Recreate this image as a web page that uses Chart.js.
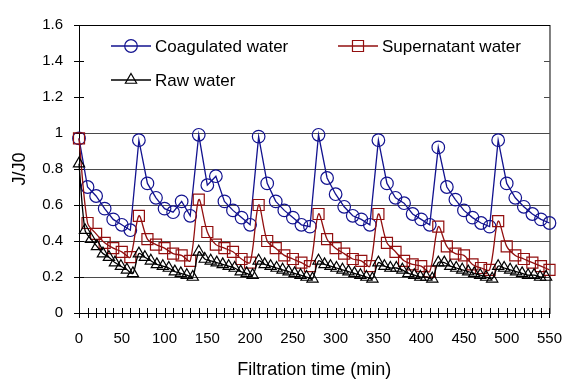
<!DOCTYPE html>
<html>
<head>
<meta charset="utf-8">
<script src="https://cdn.jsdelivr.net/npm/chart.js@4.4.1/dist/chart.umd.min.js"></script>
<style>
  html, body { margin: 0; padding: 0; background: #fff; }
  canvas { display: block; }
</style>
</head>
<body>
<canvas id="chart" width="579" height="382"></canvas>
<script>
// --- data ---
const sampleTime = [0, 10, 20, 30, 40, 50, 60, 70, 80, 90, 100, 110, 120, 130, 140, 150, 160, 170, 180, 190,
    200, 210, 220, 230, 240, 250, 260, 270, 280, 290, 300, 310, 320, 330, 340, 350, 360, 370, 380, 390,
    400, 410, 420, 430, 440, 450, 460, 470, 480, 490, 500, 510, 520, 530, 540, 550];
const coagulated = [0.97, 0.70, 0.65, 0.58, 0.52, 0.49, 0.46, 0.96, 0.72, 0.64, 0.58, 0.56, 0.62, 0.54,
    0.99, 0.71, 0.76, 0.62, 0.57, 0.53, 0.49, 0.98, 0.72, 0.62, 0.57, 0.53, 0.49, 0.48,
    0.99, 0.75, 0.66, 0.59, 0.54, 0.52, 0.49, 0.96, 0.72, 0.64, 0.61, 0.55, 0.52, 0.49,
    0.92, 0.70, 0.63, 0.57, 0.53, 0.50, 0.48, 0.96, 0.72, 0.64, 0.59, 0.55, 0.52, 0.50];
const supernatant = [0.97, 0.50, 0.44, 0.39, 0.36, 0.34, 0.31, 0.54, 0.41, 0.38, 0.36, 0.33, 0.32, 0.29,
    0.63, 0.45, 0.38, 0.36, 0.34, 0.30, 0.28, 0.60, 0.40, 0.36, 0.32, 0.30, 0.28, 0.26,
    0.55, 0.41, 0.36, 0.33, 0.30, 0.29, 0.26, 0.55, 0.39, 0.34, 0.29, 0.27, 0.26, 0.23,
    0.48, 0.37, 0.33, 0.32, 0.27, 0.25, 0.24, 0.51, 0.37, 0.32, 0.30, 0.28, 0.26, 0.24];
const rawTime = [0, 7, 14, 21, 28, 35, 42, 49, 56, 63, 70, 77, 84, 91, 98, 105, 112, 119, 126, 133,
    140, 147, 154, 161, 168, 175, 182, 189, 196, 203, 210, 217, 224, 231, 238, 245, 252, 259, 266, 273,
    280, 287, 294, 301, 308, 315, 322, 329, 336, 343, 350, 357, 364, 371, 378, 385, 392, 399, 406, 413,
    420, 427, 434, 441, 448, 455, 462, 469, 476, 483, 490, 497, 504, 511, 518, 525, 532, 539, 546];
const raw = [0.83, 0.46, 0.41, 0.37, 0.33, 0.31, 0.28, 0.26, 0.24, 0.22,
    0.33, 0.31, 0.29, 0.27, 0.26, 0.25, 0.23, 0.22, 0.21, 0.20,
    0.34, 0.30, 0.29, 0.28, 0.27, 0.26, 0.25, 0.23, 0.22, 0.21,
    0.29, 0.27, 0.26, 0.25, 0.24, 0.23, 0.22, 0.21, 0.20, 0.19,
    0.29, 0.27, 0.26, 0.25, 0.24, 0.23, 0.22, 0.21, 0.20, 0.19,
    0.28, 0.26, 0.25, 0.25, 0.24, 0.22, 0.21, 0.20, 0.20, 0.19,
    0.28, 0.28, 0.26, 0.25, 0.24, 0.23, 0.22, 0.21, 0.20, 0.19,
    0.26, 0.25, 0.24, 0.23, 0.22, 0.21, 0.21, 0.20, 0.20];
const xTicks = [0, 50, 100, 150, 200, 250, 300, 350, 400, 450, 500, 550];
const yTicks = [0, 0.2, 0.4, 0.6, 0.8, 1, 1.2, 1.4, 1.6];

const FONT = "'Liberation Sans', Arial, sans-serif";
const BLUE = '#12128f';
const RED = '#920f0f';
const BLACK = '#000000';

const pts = (xs, ys) => xs.map((x, i) => ({ x, y: ys[i] }));

function series(label, xs, ys, color, style, radius, tension, order) {
    return {
        label, data: pts(xs, ys), order,
        borderColor: color, borderWidth: 1.3, tension,
        pointStyle: style, pointRadius: radius, pointBorderWidth: 1.2,
        pointBorderColor: color, pointBackgroundColor: 'rgba(0,0,0,0)',
        clip: false
    };
}

// legend box inside the plot + cross tick marks
const decor = {
    id: 'decor',
    beforeDatasetsDraw(chart) {
        const { ctx, chartArea: a, scales: { x, y } } = chart;
        ctx.save();
        ctx.fillStyle = '#fff';
        ctx.fillRect(a.left + 1, a.top + 3, 543 - a.left, 100 - a.top);

        const items = [
            { ds: 0, x: 111, y: 46 },
            { ds: 1, x: 338, y: 46 },
            { ds: 2, x: 111, y: 80 }
        ];
        items.forEach(it => {
            const d = chart.data.datasets[it.ds];
            ctx.strokeStyle = d.borderColor;
            ctx.lineWidth = 1.3;
            ctx.beginPath();
            ctx.moveTo(it.x, it.y);
            ctx.lineTo(it.x + 40, it.y);
            ctx.stroke();
            ctx.fillStyle = 'rgba(0,0,0,0)';
            ctx.lineWidth = 1.2;
            Chart.helpers.drawPoint(ctx, { pointStyle: d.pointStyle, radius: d.pointRadius, borderWidth: 1.2, rotation: 0 }, it.x + 20, it.y);
            ctx.fillStyle = '#000';
            ctx.font = '17px ' + FONT;
            ctx.textBaseline = 'middle';
            ctx.fillText(d.label, it.x + 44, it.y + 1);
        });

        // plot border + cross ticks
        ctx.strokeStyle = '#000';
        ctx.lineWidth = 1;
        ctx.strokeRect(a.left + 0.5, a.top + 0.5, a.right - a.left, a.bottom - a.top);
        ctx.beginPath();
        for (let t = 0; t <= 550; t += 10) {
            const px = Math.round(x.getPixelForValue(t)) + 0.5;
            ctx.moveTo(px, a.bottom - 5);
            ctx.lineTo(px, a.bottom + 5);
        }
        yTicks.forEach(v => {
            const py = Math.round(y.getPixelForValue(v)) + 0.5;
            ctx.moveTo(a.left - 5, py);
            ctx.lineTo(a.left + 5, py);
        });
        ctx.stroke();
        ctx.restore();
    }
};

new Chart(document.getElementById('chart'), {
    type: 'line',
    data: {
        datasets: [
            series('Coagulated water', sampleTime, coagulated, BLUE, 'circle', 6.3, 0, 2),
            series('Supernatant water', sampleTime, supernatant, RED, 'rect', 7.8, 0.3, 1),
            series('Raw water', rawTime, raw, BLACK, 'triangle', 6.5, 0.3, 0)
        ]
    },
    options: {
        responsive: false,
        animation: false,
        devicePixelRatio: 1,
        layout: { padding: { top: 17, right: 22, left: 0, bottom: 0 } },
        plugins: { legend: { display: false }, tooltip: { enabled: false } },
        scales: {
            x: {
                type: 'linear', min: 0, max: 550,
                afterBuildTicks: s => { s.ticks = xTicks.map(v => ({ value: v })); },
                afterFit: s => { s.height = 69; },
                grid: { display: false, drawTicks: false },
                border: { display: true, color: '#000', width: 1 },
                ticks: { color: '#000', font: { family: FONT, size: 15 }, padding: 17, maxRotation: 0, autoSkip: false },
                title: { display: true, text: 'Filtration time (min)', color: '#000',
                         font: { family: FONT, size: 18 }, padding: { top: 0, bottom: 1 } }
            },
            y: {
                min: 0, max: 1.6,
                afterBuildTicks: s => { s.ticks = yTicks.map(v => ({ value: v })); },
                afterFit: s => { s.width = 79; },
                grid: { color: '#4a4a4a', lineWidth: 1, drawTicks: false },
                border: { display: true, color: '#000', width: 1 },
                ticks: { color: '#000', font: { family: FONT, size: 15 }, padding: 16,
                         callback: v => String(+v.toFixed(1)) },
                title: { display: true, text: 'J/J0', color: '#000',
                         font: { family: FONT, size: 18 }, padding: { top: 9, bottom: 0 } }
            }
        }
    },
    plugins: [decor]
});
</script>
</body>
</html>
